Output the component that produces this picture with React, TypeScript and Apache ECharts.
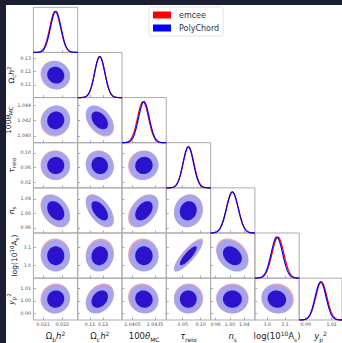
import React, { useEffect, useRef } from 'react';
import * as echarts from 'echarts';

// ---------- data ----------
const PARAM_KEYS = ['omegabh2', 'omegach2', 'theta', 'tau', 'ns', 'logA', 'yp2'];
const AXIS_NAMES = [
  '{m|Ω}{s|b}{i|h}{u|2}',
  '{m|Ω}{s|c}{i|h}{u|2}',
  '{m|100}{i|θ}{s|MC}',
  '{i|τ}{s|reio}',
  '{i|n}{s|s}',
  '{m|log(10}{u|10}{m|A}{s|s}{m|)}',
  '{i|y}{s|p}{u|2}',
];
const AXIS_MIN = [0.0205, 0.1005, 1.0391, 0.004, 0.946, 2.93, 0.985];
const AXIS_MAX = [0.0228, 0.1345, 1.045, 0.128, 1.07, 3.18, 1.018];
const X_TICKS = [[0.021, 0.022], [0.11, 0.12], [1.0405, 1.0435], [0.05, 0.1], [0.96, 1.0, 1.04], [3.0, 3.1], [0.99, 1.01]];
const X_TICK_LABELS = [['0.021', '0.022'], ['0.11', '0.12'], ['1.0405', '1.0435'], ['0.05', '0.10'], ['0.96', '1.00', '1.04'], ['3.0', '3.1'], ['0.99', '1.01']];
const Y_TICKS = [[], [0.11, 0.12, 0.13], [1.04, 1.042, 1.044], [0.02, 0.06, 0.1], [0.96, 1.0, 1.04], [3.0, 3.1], [0.99, 1.0, 1.01]];
const Y_TICK_LABELS = [[], ['0.11', '0.12', '0.13'], ['1.040', '1.042', '1.044'], ['0.02', '0.06', '0.10'], ['0.96', '1.00', '1.04'], ['3.0', '3.1'], ['0.99', '1.00', '1.01']];

const MEAN_POLY = [0.02166, 0.1174, 1.04202, 0.0655, 1.007, 3.054, 1.0015];
const SIGMA_POLY = [0.000274, 0.0039, 0.000716, 0.0146, 0.0163, 0.0322, 0.0042];
const MEAN_EMCEE = [0.02163, 0.11745, 1.0419, 0.0662, 1.0068, 3.06, 1.0021];
const SIGMA_EMCEE = [0.00028, 0.00399, 0.000732, 0.015, 0.0167, 0.033, 0.0043];
// correlation coefficients, lower triangle (row param i vs column param j)
const CORR = [
  [],
  [-0.08],
  [0.05, -0.42],
  [0.0, -0.08, 0.05],
  [-0.35, -0.55, 0.42, 0.1],
  [0.0, 0.08, 0.0, 0.85, -0.3],
  [0.05, 0.3, -0.08, 0.0, 0.0, -0.08],
];
const SAMPLERS = ['emcee', 'PolyChord'];

// ---------- style ----------
const FONT = 'DejaVu Sans';
const LEVELS = [2.72, 1.62];
const X0 = 33.4, CW = 44.3, Y0 = 7.3, CH = 45.14;
const LINE_COLOR = { emcee: '#ff0000', PolyChord: '#0000ff' };
const FILL = {
  emcee: ['#f4a6ae', '#ee3b3b'],
  PolyChord: ['#a7a4ee', '#2c12cc'],
};

const richBottom = {
  m: { fontSize: 8.5, lineHeight: 12, color: '#222', fontFamily: FONT },
  i: { fontSize: 8.5, lineHeight: 12, color: '#222', fontFamily: FONT, fontStyle: 'italic' },
  s: { fontSize: 6, lineHeight: 6, color: '#222', fontFamily: FONT, verticalAlign: 'bottom' },
  u: { fontSize: 6, lineHeight: 6, color: '#222', fontFamily: FONT, verticalAlign: 'top' },
};
const richLeft = {
  m: { fontSize: 7.5, lineHeight: 11, color: '#222', fontFamily: FONT },
  i: { fontSize: 7.5, lineHeight: 11, color: '#222', fontFamily: FONT, fontStyle: 'italic' },
  s: { fontSize: 5.5, lineHeight: 5, color: '#222', fontFamily: FONT, verticalAlign: 'bottom' },
  u: { fontSize: 5.5, lineHeight: 5, color: '#222', fontFamily: FONT, verticalAlign: 'top' },
};

function fmt(ticks: number[], labels: string[]) {
  return (v: number) => {
    const k = ticks.findIndex((t) => Math.abs(t - v) < 1e-9);
    return k >= 0 ? labels[k] : '';
  };
}

function buildOption() {
  const grid: any[] = [];
  const xAxis: any[] = [];
  const yAxis: any[] = [];
  const series: any[] = [];
  let g = 0;
  for (let i = 0; i < PARAM_KEYS.length; i++) {
    for (let j = 0; j <= i; j++) {
      const diag = i === j;
      const bottom = i === PARAM_KEYS.length - 1;
      const leftCol = j === 0 && i > 0;
      grid.push({
        left: X0 + j * CW, top: Y0 + i * CH, width: CW, height: CH,
        show: true, borderColor: '#ababab', borderWidth: 1, backgroundColor: 'rgba(0,0,0,0)',
      });
      xAxis.push({
        type: 'value', gridIndex: g, min: AXIS_MIN[j], max: AXIS_MAX[j],
        axisLine: { show: false }, splitLine: { show: false },
        axisTick: { show: true, inside: true, length: 2.5, customValues: X_TICKS[j], lineStyle: { color: '#999', width: 0.8 } },
        axisLabel: {
          show: bottom, customValues: X_TICKS[j], formatter: fmt(X_TICKS[j], X_TICK_LABELS[j]),
          fontSize: 4.7, color: '#555', fontFamily: FONT, margin: 2,
        },
        name: bottom ? AXIS_NAMES[j] : '',
        nameLocation: 'middle', nameGap: 10,
        nameTextStyle: { rich: richBottom },
      });
      if (diag) {
        yAxis.push({
          type: 'value', gridIndex: g, min: 0, max: 1.1,
          axisLine: { show: false }, splitLine: { show: false }, axisTick: { show: false }, axisLabel: { show: false },
        });
      } else {
        yAxis.push({
          type: 'value', gridIndex: g, min: AXIS_MIN[i], max: AXIS_MAX[i],
          axisLine: { show: false }, splitLine: { show: false },
          axisTick: { show: true, inside: true, length: 2.5, customValues: Y_TICKS[i], lineStyle: { color: '#999', width: 0.8 } },
          axisLabel: {
            show: leftCol, customValues: Y_TICKS[i], formatter: fmt(Y_TICKS[i], Y_TICK_LABELS[i]),
            fontSize: 4.7, color: '#555', fontFamily: FONT, margin: 2.5,
          },
          name: leftCol ? AXIS_NAMES[i] : '',
          nameLocation: 'middle', nameGap: 12,
          nameTextStyle: { rich: richLeft },
        });
      }
      for (const s of SAMPLERS) {
        const mean = s === 'emcee' ? MEAN_EMCEE : MEAN_POLY;
        const sig = s === 'emcee' ? SIGMA_EMCEE : SIGMA_POLY;
        if (diag) {
          const lo = AXIS_MIN[j], hi = AXIS_MAX[j];
          series.push({
            type: 'custom', name: s, xAxisIndex: g, yAxisIndex: g,
            itemStyle: { color: (LINE_COLOR as any)[s] },
            data: [[mean[j], sig[j]]],
            renderItem: (params: any, api: any) => {
              const m = api.value(0), sd = api.value(1);
              const pts: number[][] = [];
              const N = 90;
              for (let t = 0; t <= N; t++) {
                const x = lo + ((hi - lo) * t) / N;
                const y = Math.exp(-0.5 * ((x - m) / sd) ** 2);
                pts.push(api.coord([x, y]));
              }
              return {
                type: 'polyline', shape: { points: pts },
                style: { stroke: (LINE_COLOR as any)[s], lineWidth: 1.2, fill: 'none' },
              };
            },
          });
        } else {
          const rho = CORR[i][j];
          series.push({
            type: 'custom', name: s, xAxisIndex: g, yAxisIndex: g,
            itemStyle: { color: (LINE_COLOR as any)[s] },
            data: [[mean[j], mean[i], sig[j], sig[i], rho]],
            renderItem: (params: any, api: any) => {
              const mx = api.value(0), my = api.value(1), sx = api.value(2), sy = api.value(3), r = api.value(4);
              const children = LEVELS.map((k, li) => {
                const pts: number[][] = [];
                const N = 72;
                for (let t = 0; t < N; t++) {
                  const a = (2 * Math.PI * t) / N;
                  const x = mx + k * sx * Math.cos(a);
                  const y = my + k * sy * (r * Math.cos(a) + Math.sqrt(1 - r * r) * Math.sin(a));
                  pts.push(api.coord([x, y]));
                }
                return { type: 'polygon', shape: { points: pts }, style: { fill: (FILL as any)[s][li], stroke: 'none' } };
              });
              return { type: 'group', children };
            },
          });
        }
      }
      g++;
    }
  }
  return {
    animation: false,
    backgroundColor: '#ffffff',
    grid, xAxis, yAxis, series,
    legend: {
      data: SAMPLERS, orient: 'vertical', left: 149, top: 7,
      icon: 'rect', itemWidth: 18, itemHeight: 7, itemGap: 5,
      padding: [4, 4, 4, 4],
      textStyle: { fontSize: 8, color: '#333', fontFamily: FONT, padding: [0, 0, 0, 3] },
      borderColor: '#dddddd', borderWidth: 0.8, borderRadius: 2, backgroundColor: '#ffffff',
    },
    graphic: [
      { type: 'rect', shape: { x: 0, y: 0, width: 342, height: 5 }, style: { fill: '#1c1e33' }, silent: true },
      { type: 'rect', shape: { x: 0, y: 0, width: 6, height: 343 }, style: { fill: '#1c1e33' }, silent: true },
    ],
  };
}

export default function App() {
  const ref = useRef<HTMLDivElement>(null);
  useEffect(() => {
    if (!ref.current) return;
    const chart = echarts.init(ref.current, undefined, { renderer: 'svg' });
    chart.setOption(buildOption() as any);
    return () => chart.dispose();
  }, []);
  return <div ref={ref} style={{ position: 'fixed', left: 0, top: 0, width: 342, height: 343 }} />;
}
